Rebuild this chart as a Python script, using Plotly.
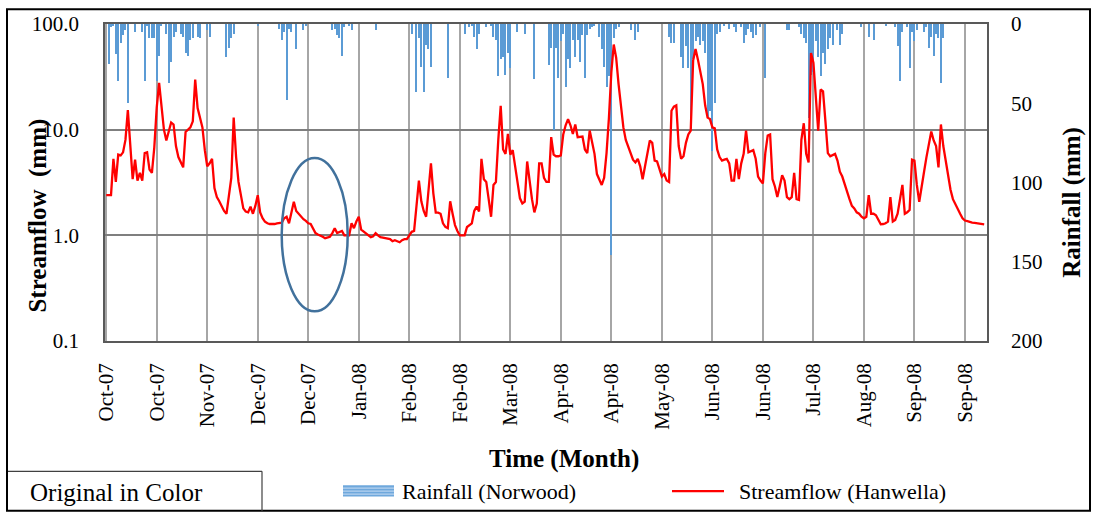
import pandas as pd
import plotly.graph_objects as go

# ---------------- data ----------------
start_date = "2007-10-01"

streamflow_mm = [
    2.4, 2.4, 2.4, 5.3, 3.2, 5.8, 5.7, 6.1, 8.0, 15.3,
    7.3, 3.4, 5.2, 3.3, 3.9, 3.3, 6.0, 6.1, 4.2, 3.9,
    6.8, 16.2, 27.7, 17.4, 10.0, 7.9, 9.4, 11.7, 11.2, 7.0,
    5.5, 5.0, 4.4, 9.5, 10.0, 10.5, 12.0, 29.8, 16.0, 12.5,
    10.5, 6.4, 4.5, 4.8, 5.3, 2.8, 2.3, 2.1, 1.9, 1.7,
    1.6, 2.3, 3.5, 13.0, 5.5, 3.2, 2.3, 1.8, 1.68, 1.65,
    1.87, 1.6, 1.9, 2.4, 1.65, 1.45, 1.35, 1.3, 1.28, 1.27,
    1.28, 1.3, 1.3, 1.32, 1.45, 1.5, 1.3, 1.6, 2.08, 1.7,
    1.6, 1.5, 1.42, 1.37, 1.3, 1.28, 1.15, 1.05, 1.02, 1.0,
    0.97, 0.94, 0.95, 0.97, 1.05, 1.17, 1.05, 1.08, 1.1, 1.0,
    1.0, 1.0, 1.3, 1.17, 1.35, 1.5, 1.13, 1.08, 1.05, 1.0,
    0.96, 0.98, 1.05, 1.0, 0.96, 0.95, 0.94, 0.94, 0.92, 0.88,
    0.9, 0.88, 0.86, 0.9, 0.92, 0.92, 1.0, 1.08, 1.1, 2.0,
    3.3, 2.1, 1.7, 1.5, 2.5, 4.8, 2.5, 1.64, 1.64, 1.6,
    1.3, 1.2, 1.17, 2.1, 1.6, 1.25, 1.1, 1.0, 1.0, 1.0,
    1.2, 1.25, 1.3, 1.7, 1.87, 1.68, 5.3, 3.4, 3.2, 2.2,
    1.5, 3.0, 3.2, 8.0, 16.8, 6.5, 5.9, 9.1, 5.8, 6.4,
    4.6, 3.0, 2.24, 2.0, 2.08, 5.0, 3.3, 2.2, 1.65, 2.0,
    4.8, 4.8, 3.5, 3.2, 3.2, 8.5, 5.8, 5.6, 5.6, 5.7,
    9.0, 11.0, 12.6, 11.0, 9.1, 11.2, 8.5, 8.5, 8.6, 6.5,
    6.0, 9.8, 7.5, 5.9, 3.8, 3.3, 3.0, 3.5, 6.0, 13.0,
    35.0, 64.0, 48.0, 27.0, 16.0, 10.5, 8.0, 7.0, 6.0, 5.2,
    4.9, 5.3, 4.5, 3.4, 4.5, 6.0, 7.9, 7.5, 5.1, 5.0,
    4.2, 3.6, 3.8, 3.3, 3.2, 15.1, 16.5, 17.0, 7.0, 5.3,
    5.6, 7.5, 9.0, 9.8, 45.0, 58.0, 46.0, 36.0, 27.0, 17.0,
    13.0, 12.6, 10.5, 10.3, 6.5, 5.5, 5.1, 5.2, 5.3, 4.8,
    3.3, 3.3, 5.3, 3.4, 4.8, 5.9, 9.8, 6.1, 6.2, 6.4,
    5.3, 3.6, 3.3, 3.1, 6.0, 8.8, 9.0, 3.4, 2.9, 2.3,
    2.9, 3.7, 3.3, 2.3, 2.2, 2.3, 3.9, 2.2, 2.16, 8.0,
    11.5, 5.9, 4.9, 53.0, 43.0, 20.0, 9.8, 24.0, 23.0, 12.0,
    6.0, 5.6, 5.8, 5.9, 5.1, 4.0, 3.6, 3.0, 2.5, 2.2,
    1.9, 1.8, 1.65, 1.6, 1.5, 1.45, 1.5, 2.4, 1.6, 1.6,
    1.55, 1.4, 1.27, 1.28, 1.3, 1.35, 2.3, 1.35, 1.4, 1.6,
    2.1, 3.0, 1.6, 1.65, 1.74, 5.2, 5.1, 3.0, 2.08, 3.0,
    4.0, 5.5, 7.3, 9.6, 7.9, 7.0, 4.4, 11.2, 7.0, 5.0,
    3.6, 2.7, 2.2, 2.0, 1.8, 1.6, 1.45, 1.38, 1.36, 1.33,
    1.32, 1.31, 1.3, 1.28, 1.27, 1.27,
]

rainfall_mm = [
    0, 25, 2, 1, 19, 36, 12, 7, 4, 50,
    0, 0, 5, 0, 0, 5, 36, 1, 9, 9,
    9, 36, 20, 1, 0, 6, 37, 24, 8, 5,
    0, 6, 8, 18, 20, 10, 9, 0, 8, 9,
    0, 0, 4, 8, 0, 0, 0, 0, 0, 0,
    21, 15, 9, 6, 0, 0, 0, 0, 0, 0,
    0, 0, 0, 1, 0, 0, 0, 0, 0, 0,
    0, 0, 3, 10, 5, 48, 3, 5, 0, 16,
    0, 0, 4, 1, 0, 0, 0, 0, 0, 0,
    0, 0, 0, 0, 4, 3, 7, 9, 20, 2,
    0, 1, 4, 0, 0, 0, 0, 0, 0, 0,
    0, 0, 4, 0, 0, 0, 0, 0, 0, 0,
    0, 0, 0, 0, 0, 0, 0, 6, 0, 43,
    9, 27, 43, 13, 16, 27, 0, 0, 0, 0,
    0, 0, 34, 0, 0, 0, 0, 0, 0, 6,
    0, 2, 1, 8, 16, 6, 0, 0, 2, 0,
    1, 8, 10, 33, 22, 21, 32, 18, 28, 0,
    0, 5, 0, 0, 6, 0, 0, 0, 35, 0,
    0, 0, 0, 0, 26, 15, 67, 15, 34, 11,
    6, 40, 22, 28, 10, 21, 10, 24, 7, 34,
    7, 3, 2, 1, 0, 8, 16, 27, 40, 33,
    146, 9, 3, 2, 0, 0, 0, 0, 4, 0,
    10, 5, 0, 0, 0, 0, 0, 0, 0, 0,
    0, 0, 0, 0, 8, 12, 12, 0, 0, 21,
    28, 14, 28, 59, 22, 11, 8, 13, 11, 18,
    59, 55, 80, 50, 6, 5, 0, 1, 0, 3,
    0, 2, 5, 0, 2, 12, 7, 3, 5, 9,
    7, 0, 2, 0, 34, 0, 0, 0, 0, 0,
    0, 0, 0, 4, 4, 0, 0, 0, 2, 6,
    9, 12, 59, 32, 30, 11, 21, 33, 18, 25,
    16, 9, 13, 0, 4, 13, 6, 0, 0, 0,
    0, 0, 0, 0, 2, 0, 0, 8, 0, 10,
    0, 0, 0, 0, 1, 0, 0, 0, 2, 14,
    36, 5, 0, 2, 28, 5, 11, 4, 0, 0,
    5, 2, 15, 8, 20, 6, 9, 37, 9, 0,
    0, 0, 0, 0, 0, 0, 0, 0, 0, 0,
    0, 0, 0, 0, 0, 0,
]

x_tick_labels = ["Oct-07", "Oct-07", "Nov-07", "Dec-07", "Dec-07", "Jan-08",
                 "Feb-08", "Feb-08", "Mar-08", "Apr-08", "Apr-08", "May-08",
                 "Jun-08", "Jun-08", "Jul-08", "Aug-08", "Sep-08", "Sep-08"]
flow_tick_values = [0.1, 1, 10, 100]
flow_tick_labels = ["0.1", "1.0", "10.0", "100.0"]
rain_tick_values = [0, 50, 100, 150, 200]

# ---------------- figure ----------------
dates = pd.date_range(start_date, periods=len(streamflow_mm), freq="D")
tick_dates = pd.date_range(start_date, periods=len(x_tick_labels), freq="21D")

SERIF = "Liberation Serif"
L, R, T, B = 105, 107, 20, 174
W, H = 1094, 515
PW, PH = W - L - R, H - T - B


def px(x):
    return (x - L) / PW


def py(y):
    return (H - B - y) / PH


fig = go.Figure()
fig.add_trace(go.Bar(
    x=dates, y=rainfall_mm, yaxis="y", name="Rainfall (Norwood)",
    marker=dict(color="#5B9BD5", line=dict(width=0)),
    width=0.45 * 86400000, showlegend=False,
))
fig.add_trace(go.Scatter(
    x=dates, y=streamflow_mm, yaxis="y2", mode="lines",
    name="Streamflow (Hanwella)",
    line=dict(color="#FF0000", width=2.3), showlegend=False,
))

tickfont = dict(family=SERIF, size=21, color="black")
fig.update_layout(
    width=W, height=H, autosize=False,
    margin=dict(l=L, r=R, t=T, b=B),
    paper_bgcolor="white", plot_bgcolor="white",
    bargap=0,
    xaxis=dict(
        type="date", range=["2007-09-30 12:00", "2008-10-01 04:00"],
        tickvals=tick_dates, ticktext=x_tick_labels, tickangle=-90,
        tickfont=tickfont, showgrid=True, gridcolor="#A6A6A6", gridwidth=1.6,
        showline=True, linecolor="#595959", linewidth=1.6, mirror=True,
        ticks="", ticklabelstandoff=12, zeroline=False,
    ),
    yaxis=dict(
        range=[200, 0], side="right", tickvals=rain_tick_values,
        tickfont=tickfont, showgrid=False, zeroline=False,
        showline=True, linecolor="#595959", linewidth=1.6,
        ticks="", ticklabelstandoff=18,
    ),
    yaxis2=dict(
        overlaying="y", side="left", type="log", range=[-1, 2],
        tickvals=flow_tick_values, ticktext=flow_tick_labels,
        tickfont=tickfont, showgrid=True, gridcolor="#7F7F7F", gridwidth=1.6,
        showline=True, linecolor="#595959", linewidth=1.6, zeroline=False,
        ticks="", ticklabelstandoff=20,
    ),
)

titlefont = dict(family=SERIF, size=25, color="black")
annotations = [
    dict(text="<b>Streamflow&nbsp; (mm)</b>", x=px(38), y=py(214), textangle=-90,
         font=titlefont),
    dict(text="<b>Rainfall (mm)</b>", x=px(1072), y=py(201), textangle=-90,
         font=titlefont),
    dict(text="<b>Time (Month)</b>", x=px(564), y=py(460), font=titlefont),
    dict(text="Rainfall (Norwood)", x=px(400), y=py(493), xanchor="left",
         font=dict(family=SERIF, size=22, color="black")),
    dict(text="Streamflow (Hanwella)", x=px(737), y=py(493), xanchor="left",
         font=dict(family=SERIF, size=22, color="black")),
    dict(text="Original in Color", x=px(28), y=py(494), xanchor="left",
         font=dict(family=SERIF, size=25, color="black")),
]
for a in annotations:
    a.setdefault("xanchor", "center")
    a.update(xref="paper", yref="paper", yanchor="middle", showarrow=False)
fig.update_layout(annotations=annotations)

shapes = [
    # highlight ellipse
    dict(type="circle", x0=px(281.7), x1=px(347.7), y0=py(311), y1=py(155.7),
         line=dict(color="#41719C", width=2.5)),
    # outer frame
    dict(type="rect", x0=px(7), x1=px(1090), y0=py(513), y1=py(5),
         line=dict(color="black", width=2)),
    # "Original in Color" box
    dict(type="line", x0=px(8), x1=px(262), y0=py(473), y1=py(473),
         line=dict(color="#404040", width=1.2)),
    dict(type="line", x0=px(262), x1=px(262), y0=py(473), y1=py(514),
         line=dict(color="#404040", width=1.2)),
    # legend: rainfall icon
    dict(type="rect", x0=px(343), x1=px(394), y0=py(498.5), y1=py(487),
         fillcolor="#6FA8DC", line=dict(width=0)),
    dict(type="line", x0=px(343), x1=px(394), y0=py(490), y1=py(490),
         line=dict(color="#B7D3F0", width=1.2)),
    dict(type="line", x0=px(343), x1=px(394), y0=py(493), y1=py(493),
         line=dict(color="#B7D3F0", width=1.2)),
    dict(type="line", x0=px(343), x1=px(394), y0=py(496), y1=py(496),
         line=dict(color="#B7D3F0", width=1.2)),
    # legend: streamflow line
    dict(type="line", x0=px(672), x1=px(724), y0=py(493), y1=py(493),
         line=dict(color="#FF0000", width=2.2)),
]
for s in shapes:
    s.update(xref="paper", yref="paper")
fig.update_layout(shapes=shapes)

fig.write_html(
    "out.html",
    config={"displayModeBar": False},
    post_script="document.body.style.margin='0px';document.body.style.overflow='hidden';",
)
